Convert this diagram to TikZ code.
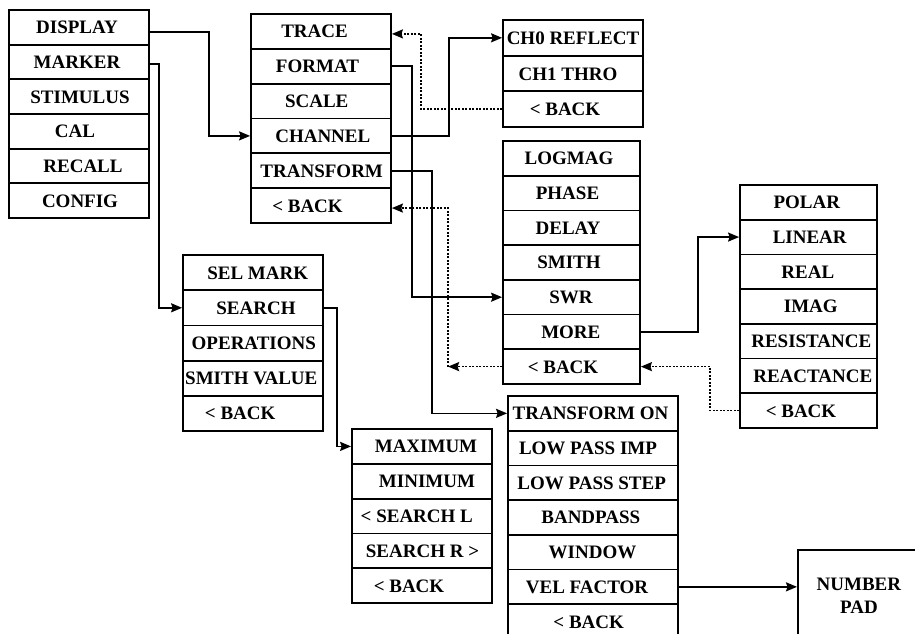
\documentclass[tikz,border=0pt]{standalone}
\usepackage{fontspec}
\setmainfont{Liberation Serif}
\usetikzlibrary{arrows.meta,calc}
\tikzset{
  menufont/.style={font=\fontsize{19}{23}\selectfont\bfseries},
  rowbox/.style={draw, line width=1.8pt, menufont, inner xsep=0pt, inner ysep=0pt, text height=13pt, text depth=0pt},
  padbox/.style={draw, line width=1.8pt, menufont, align=center, inner sep=0pt},
  conn/.style={line width=1.7pt, -{Stealth[length=11pt,width=9pt,inset=1.5pt]}},
  back/.style={conn, dash pattern=on 2pt off 1.5pt},
}
\newcommand\mkmenu[6]{%
  \foreach \t/\s [count=\i] in {#6} {
    \node[rowbox, minimum width=#4pt, minimum height=#5pt] (#1\i) at (#2, {#3+#5*(\i-0.5)})
      {\hspace*{\dimexpr 2\dimexpr\s pt\relax\relax}\t};
  }}
\begin{document}
\begin{tikzpicture}[x=1pt,y=-1pt]
\useasboundingbox (0,0) rectangle (915,634);
\clip (0,0) rectangle (915,634);

\mkmenu{m1}{79}{10}{140}{34.67}{DISPLAY/-2, MARKER/-2, STIMULUS/1, CAL/-4, RECALL/4, CONFIG/1}
\mkmenu{m2}{321}{14}{140}{34.83}{TRACE/-6.5, FORMAT/-3.5, SCALE/-4.3, CHANNEL/1.8, TRANSFORM/0.7, < BACK/-13.5}
\mkmenu{c}{573}{20}{140}{35.67}{CH0 REFLECT/0, CH1 THRO/-5, < BACK/-8}
\mkmenu{l}{571.5}{141}{137}{34.71}{LOGMAG/-2.5, PHASE/-4, DELAY/-3.5, SMITH/-2.5, SWR/-0.5, MORE/-0.7, < BACK/-8.5}
\mkmenu{p}{808.5}{185}{137}{34.71}{POLAR/-1.7, LINEAR/1.2, REAL/-0.7, IMAG/2.3, RESISTANCE/2.8, REACTANCE/4.3, < BACK/-7.5}
\mkmenu{t}{593}{396}{170}{34.7}{TRANSFORM ON/-2.5, LOW PASS IMP/-5, LOW PASS STEP/-1.3, BANDPASS/-2.2, WINDOW/-0.5, VEL FACTOR/-6, < BACK/-4.3}
\mkmenu{s}{253}{255}{140}{35.2}{SEL MARK/4.7, SEARCH/3, OPERATIONS/0.8, SMITH VALUE/-1.7, < BACK/-12.8}
\mkmenu{x}{422}{429}{140}{34.8}{MAXIMUM/4, MINIMUM/5, < SEARCH L/-5.2, SEARCH R >/0.5, < BACK/-13}

\node[padbox, anchor=north west, minimum width=122pt, minimum height=92pt] (N) at (797,549) {NUMBER\\PAD};

% connectors
\draw[conn] ([yshift=-4.5pt]m11.east) -- ++(59,0) |- (m24.west);
\draw[conn] ([yshift=-2pt]m12.east) -- ++(9,0) |- (s2.west);
\draw[conn] (m24.east) -- ++(57,0) |- (c1.west);
\draw[back] (c3.west) -- ++(-81,0) |- ([yshift=-2.5pt]m21.east);
\draw[conn] (m22.east) -- ++(20,0) |- (l5.west);
\draw[conn] (m25.east) -- ++(40,0) |- (t1.west);
\coordinate (lb) at ($(l7.west)+(-54,0)$);
\draw[back] (l7.west) -- (lb);
\draw[back] (lb) |- ([yshift=-2.5pt]m26.east);
\draw[conn] (l6.east) -- ++(57,0) |- (p2.west);
\draw[back] (p7.west) -- ++(-29,0) |- (l7.east);
\draw[conn] (s2.east) -- ++(13,0) |- (x1.west);
\draw[conn] (t6.east) -- (t6.east -| N.west);
\end{tikzpicture}
\end{document}
